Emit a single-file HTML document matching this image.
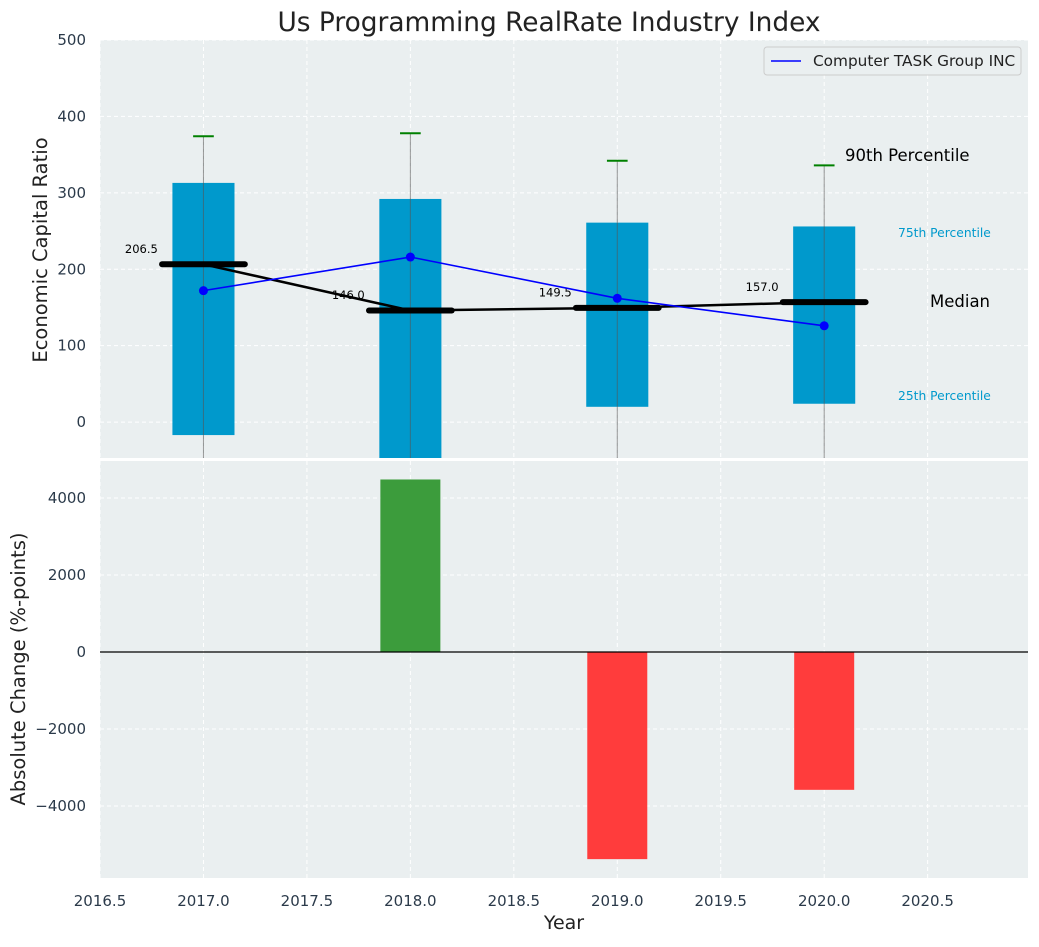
<!DOCTYPE html>
<html><head><meta charset="utf-8">
<style>
body{margin:0;background:#fff;font-family:"Liberation Sans","DejaVu Sans",sans-serif;}
svg text{font-family:"DejaVu Sans","Liberation Sans",sans-serif;}
</style></head>
<body>
<svg id="chart" width="1039" height="942" xmlns="http://www.w3.org/2000/svg"></svg>
<script>
const years=[2017,2018,2019,2020];
const q25=[-17,-60,20,24];
const q75=[313,292,261,256];
const p90=[374,378,342,336];
const medians=[206.5,146.0,149.5,157.0];
const companyValues=[172,216,162,126];
const changeYears=[2018,2019,2020];
const changes=[4480,-5380,-3580];
const topTicks=[0,100,200,300,400,500];
const bottomTicks=[-4000,-2000,0,2000,4000];
const xTicks=[2016.5,2017,2017.5,2018,2018.5,2019,2019.5,2020,2020.5];

const NS="http://www.w3.org/2000/svg";
const svg=document.getElementById('chart');
function el(tag,attrs,parent){const e=document.createElementNS(NS,tag);for(const k in attrs)e.setAttribute(k,attrs[k]);(parent||svg).appendChild(e);return e;}
const L=100,R=1028,T1=40,B1=458,T2=461,B2=878;
const x=v=>L+(v-2016.5)/(2020.985-2016.5)*(R-L);
const y1=v=>T1+(500-v)/(500+47)*(B1-T1);
const y2=v=>T2+(4960-v)/(4960+5870)*(B2-T2);

let e=el('rect',{x:L,y:T1,width:R-L,height:B1-T1,fill:'#eaeff0'});

e=el('rect',{x:L,y:T2,width:R-L,height:B2-T2,fill:'#eaeff0'});


xTicks.forEach(t=>{
  [[T1,B1],[T2,B2]].forEach(([a,b])=>{
    const g=el('line',{x1:x(t),x2:x(t),y1:a,y2:b,stroke:'#fff','stroke-dasharray':'4,3','stroke-width':1});
    
  });
  const tl=el('text',{x:x(t),y:906,'text-anchor':'middle','font-size':15,fill:'#2b3a4a'});
  tl.textContent=t.toFixed(1);
  
});
topTicks.forEach(t=>{
  const g=el('line',{x1:L,x2:R,y1:y1(t),y2:y1(t),stroke:'#fff','stroke-dasharray':'4,3'});
  
  const tl=el('text',{x:L-14,y:y1(t)+5,'text-anchor':'end','font-size':15,fill:'#2b3a4a'});
  tl.textContent=t;
  
});
bottomTicks.forEach(t=>{
  const g=el('line',{x1:L,x2:R,y1:y2(t),y2:y2(t),stroke:'#fff','stroke-dasharray':'4,3'});
  
  const tl=el('text',{x:L-14,y:y2(t)+5,'text-anchor':'end','font-size':15,fill:'#2b3a4a'});
  tl.textContent=(t<0?'\u2212'+(-t):t);
  
});

const defs=el('defs',{});
const cp=el('clipPath',{id:'c1'},defs);el('rect',{x:L,y:T1,width:R-L,height:B1-T1},cp);
const g1=el('g',{'clip-path':'url(#c1)'});


years.forEach((yr,i)=>{
  const b=el('rect',{x:x(yr-0.15),y:y1(q75[i]),width:x(yr+0.15)-x(yr-0.15),height:y1(q25[i])-y1(q75[i]),fill:'#0099cc'},g1);
  
  const w=el('line',{x1:x(yr),x2:x(yr),y1:y1(p90[i]),y2:B1+5,stroke:'#555','stroke-opacity':0.6,'stroke-width':1},g1);
  
  const c=el('line',{x1:x(yr-0.05),x2:x(yr+0.05),y1:y1(p90[i]),y2:y1(p90[i]),stroke:'green','stroke-width':2},g1);
  
});
let pts=years.map((yr,i)=>x(yr)+','+y1(medians[i])).join(' ');
e=el('polyline',{points:pts,fill:'none',stroke:'#000','stroke-width':2.5},g1);

years.forEach((yr,i)=>{
  const m=el('line',{x1:x(yr-0.2),x2:x(yr+0.2),y1:y1(medians[i]),y2:y1(medians[i]),stroke:'#000','stroke-width':6,'stroke-linecap':'round'},g1);
  
  const t=el('text',{x:x(yr-0.3),y:y1(medians[i]+20)+4,'text-anchor':'middle','font-size':11.5,fill:'#000'},g1);
  t.textContent=medians[i].toFixed(1);
  
});
pts=years.map((yr,i)=>x(yr)+','+y1(companyValues[i])).join(' ');
e=el('polyline',{points:pts,fill:'none',stroke:'#0000ff','stroke-width':1.6},g1);

years.forEach((yr,i)=>{
  const p=el('circle',{cx:x(yr),cy:y1(companyValues[i]),r:4.5,fill:'#0000ff'},g1);
  
});
[['90th Percentile',845,161,16.5,'#000','annotation-90th'],['75th Percentile',898,237,12.3,'#0099cc','annotation-75th'],['Median',930,307,16.5,'#000','annotation-median'],['25th Percentile',898,400,12.3,'#0099cc','annotation-25th']].forEach(a=>{
  const t=el('text',{x:a[1],y:a[2],'font-size':a[3],fill:a[4]});t.textContent=a[0];
  
});
const lg=el('g',{});

el('rect',{x:764,y:47,width:257,height:28,rx:3,fill:'#eaeff0',stroke:'#ccc'},lg);
el('line',{x1:771,x2:801,y1:61,y2:61,stroke:'#0000ff','stroke-width':1.6},lg);
e=el('text',{x:813,y:66,'font-size':15.3,fill:'#222'},lg);e.textContent='Computer TASK Group INC';


changeYears.forEach((yr,i)=>{
  const v=changes[i];
  const b=el('rect',{x:x(yr-0.145),y:Math.min(y2(v),y2(0)),width:x(yr+0.145)-x(yr-0.145),height:Math.abs(y2(v)-y2(0)),fill:v>=0?'#3c9c3c':'#ff3c3c'});
  
});
e=el('line',{x1:L,x2:R,y1:y2(0),y2:y2(0),stroke:'#000','stroke-width':1.2});


e=el('text',{x:549,y:31,'text-anchor':'middle','font-size':26.4,fill:'#222'});e.textContent='Us Programming RealRate Industry Index';

e=el('text',{x:564,y:929,'text-anchor':'middle','font-size':19,fill:'#222'});e.textContent='Year';

e=el('text',{x:0,y:0,'text-anchor':'middle','font-size':19.5,fill:'#222',transform:'translate(47,250) rotate(-90)'});e.textContent='Economic Capital Ratio';

e=el('text',{x:0,y:0,'text-anchor':'middle','font-size':19.5,fill:'#222',transform:'translate(25,669) rotate(-90)'});e.textContent='Absolute Change (%-points)';

</script>
</body></html>
